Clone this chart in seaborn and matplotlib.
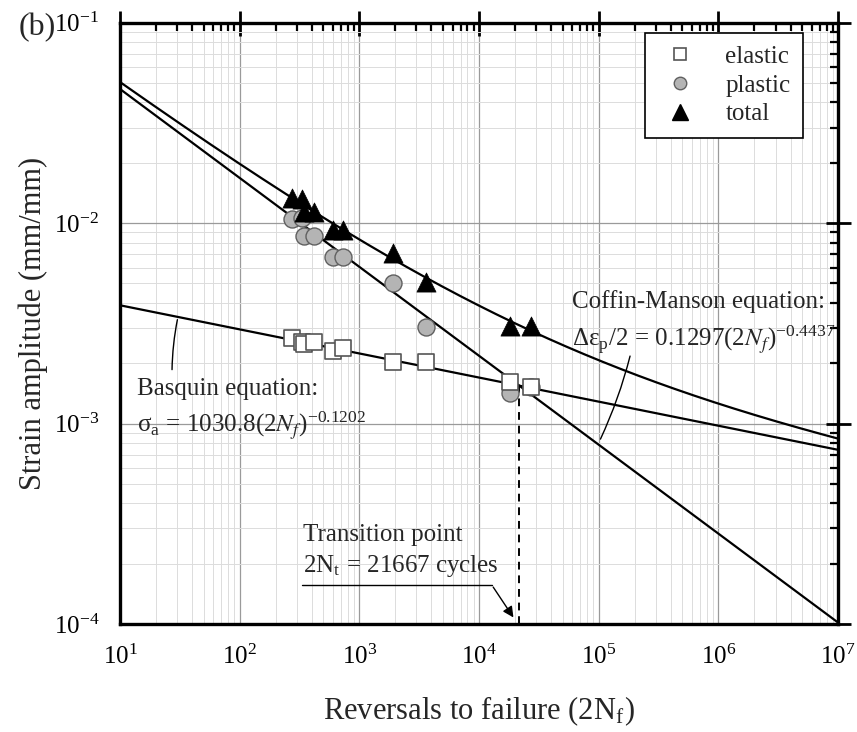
import numpy as np
import pandas as pd
import matplotlib
matplotlib.use("Agg")
import matplotlib.pyplot as plt
import seaborn as sns
from matplotlib.lines import Line2D
from matplotlib.ticker import LogLocator, NullFormatter

# ---------------- data ----------------
reversals = [272, 333, 347, 418, 598, 734, 1897, 3580, 18100, 27000]
elastic = [0.00267, 0.00254, 0.00250, 0.00254, 0.00231, 0.00237, 0.00202, 0.00204, 0.00162, 0.00152]
plastic = [0.01045, 0.0106, 0.00863, 0.00858, 0.00681, 0.00677, 0.00505, 0.00303, 0.00142, 0.00153]
total = [0.0133, 0.0132, 0.0113, 0.0113, 0.00925, 0.00925, 0.00713, 0.00507, 0.00308, 0.00308]

# fit parameters (from the equations written on the chart)
basquin_sigma = 1030.8
basquin_b = -0.1202
youngs_E = 200800.0
cm_coef = 0.1297
cm_c = -0.4437
transition_2Nt = 21667

series_names = ["elastic", "plastic", "total"]

# ---------------- style ----------------
sns.set_theme(style="white")
plt.rcParams["font.family"] = ["Liberation Serif", "DejaVu Serif"]
plt.rcParams["mathtext.fontset"] = "stix"
plt.rcParams["axes.unicode_minus"] = False

fig = plt.figure(figsize=(8.57, 7.32), dpi=100)
ax = fig.add_axes([0.140, 0.1475, 0.838, 0.8215])

# curves
xs = np.logspace(1, 7, 400)
el_curve = basquin_sigma / youngs_E * xs ** basquin_b
pl_curve = cm_coef * xs ** cm_c
curves = pd.DataFrame({"x": np.concatenate([xs, xs, xs]),
                       "y": np.concatenate([el_curve, pl_curve, el_curve + pl_curve]),
                       "kind": ["elastic"] * len(xs) + ["plastic"] * len(xs) + ["total"] * len(xs)})
for k in series_names:
    sns.lineplot(data=curves[curves.kind == k], x="x", y="y", ax=ax, color="black",
                 lw=1.6, legend=False, zorder=3)

# transition dashed line
y_t = basquin_sigma / youngs_E * transition_2Nt ** basquin_b
ax.plot([transition_2Nt, transition_2Nt], [1e-4, y_t], color="black", lw=1.4,
        ls=(0, (4, 3)), zorder=3)

# data points
df = pd.DataFrame({"x": reversals * 3,
                   "y": elastic + plastic + total,
                   "kind": ["elastic"] * 10 + ["plastic"] * 10 + ["total"] * 10})
sns.scatterplot(data=df[df.kind == "plastic"], x="x", y="y", ax=ax, marker="o", s=150,
                color="#b4b4b4", edgecolor="#606060", linewidth=1.0, zorder=4, legend=False)
sns.scatterplot(data=df[df.kind == "elastic"], x="x", y="y", ax=ax, marker="s", s=120,
                facecolor="white", edgecolor="#555555", linewidth=1.2, zorder=5, legend=False)
sns.scatterplot(data=df[df.kind == "total"], x="x", y="y", ax=ax, marker="^", s=190,
                color="black", edgecolor="black", linewidth=0.5, zorder=6, legend=False)

ax.set_xscale("log")
ax.set_yscale("log")
ax.set_xlim(1e1, 1e7)
ax.set_ylim(1e-4, 1e-1)

# grid
ax.xaxis.set_minor_locator(LogLocator(base=10, subs=np.arange(2, 10)))
ax.yaxis.set_minor_locator(LogLocator(base=10, subs=np.arange(2, 10)))
ax.xaxis.set_minor_formatter(NullFormatter())
ax.yaxis.set_minor_formatter(NullFormatter())
ax.grid(True, which="major", color="#9a9a9a", lw=0.9)
ax.grid(True, which="minor", color="#dcdcdc", lw=0.7)
ax.set_axisbelow(True)

for sp in ax.spines.values():
    sp.set_visible(True)
    sp.set_color("black")
    sp.set_linewidth(2.4)

ax.tick_params(which="major", direction="inout", length=18, width=2.0, colors="black",
               top=True, right=True, labelsize=18, pad=6)
ax.tick_params(which="minor", direction="in", length=6, width=1.6, colors="black",
               top=True, right=True)

ax.set_xlabel("Reversals to failure (2N$_\\mathregular{f}$)", fontsize=22, labelpad=18)
ax.set_ylabel("Strain amplitude (mm/mm)", fontsize=22, labelpad=4)

fig.text(0.022, 0.962, "(b)", fontsize=23, va="center", ha="left")

# annotations
ax.text(59400, 0.00405, "Coffin-Manson equation:", fontsize=18, va="center", ha="left", zorder=7)
ax.text(59400, 0.00262, "Δε$_\\mathregular{p}$/2 = 0.1297(2$N_f$)$^{\\mathregular{-0.4437}}$",
        fontsize=18, va="center", ha="left", zorder=7)
ax.annotate("", xy=(101000, 0.000813), xytext=(185000, 0.00224),
            arrowprops=dict(arrowstyle="-", color="black", lw=1.0,
                            connectionstyle="arc3,rad=-0.05"))

ax.text(13.9, 0.00148, "Basquin equation:", fontsize=18, va="center", ha="left", zorder=7)
ax.text(13.9, 0.00098, "σ$_\\mathregular{a}$ = 1030.8(2$N_f$)$^{\\mathregular{-0.1202}}$",
        fontsize=18, va="center", ha="left", zorder=7)
ax.annotate("", xy=(30.5, basquin_sigma / youngs_E * 30.5 ** basquin_b), xytext=(27.2, 0.0018),
            arrowprops=dict(arrowstyle="-", color="black", lw=1.0,
                            connectionstyle="arc3,rad=-0.05"))

ax.text(340, 0.000279, "Transition point", fontsize=18, va="center", ha="left", zorder=7)
ax.text(340, 0.000194, "2N$_\\mathregular{t}$ = 21667 cycles", fontsize=18, va="center",
        ha="left", zorder=7)
ax.plot([330, 12740], [0.000157, 0.000157], color="black", lw=1.0, zorder=7)
ax.annotate("", xy=(19950, 0.000105), xytext=(12740, 0.000157),
            arrowprops=dict(arrowstyle="-|>", color="black", lw=1.0, mutation_scale=16))

# legend
handles = [
    Line2D([], [], ls="none", marker="s", markersize=8, markerfacecolor="white",
           markeredgecolor="#555555", markeredgewidth=1.2),
    Line2D([], [], ls="none", marker="o", markersize=9, markerfacecolor="#b4b4b4",
           markeredgecolor="#606060", markeredgewidth=1.0),
    Line2D([], [], ls="none", marker="^", markersize=11, markerfacecolor="black",
           markeredgecolor="black"),
]
leg = ax.legend(handles, series_names, loc="upper right", bbox_to_anchor=(0.951, 0.983),
                borderaxespad=0, fontsize=18, frameon=True, fancybox=False, framealpha=1,
                edgecolor="black", handletextpad=0.9, borderpad=0.5, labelspacing=0.25,
                handlelength=1.8)
leg.get_frame().set_linewidth(1.2)

fig.savefig("out.png", dpi=100)
